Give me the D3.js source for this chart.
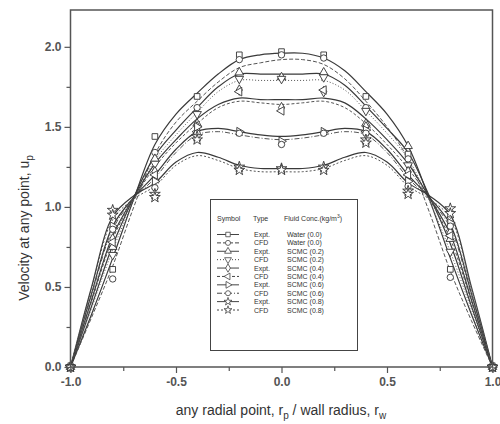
<!DOCTYPE html>
<html>
<head>
<meta charset="utf-8">
<script src="https://cdn.jsdelivr.net/npm/d3@7"></script>
<style>
  body { margin: 0; background: #fff; }
  text { font-family: Arial, "Liberation Sans", sans-serif; }
</style>
</head>
<body>
<svg id="chart"></svg>
<script>
// measured points (radial positions where symbols sit)
var xPts = [-1, -0.8, -0.6, -0.4, -0.2, 0, 0.2, 0.4, 0.6, 0.8, 1];
var waterExpt = [0, 0.61, 1.44, 1.69, 1.95, 1.97, 1.95, 1.69, 1.33, 0.61, 0];
var waterCfd  = [0, 0.55, 1.34, 1.62, 1.92, 1.95, 1.93, 1.62, 1.30, 0.56, 0];
var scmc02Expt = [0, 0.75, 1.30, 1.52, 1.84, 1.81, 1.84, 1.52, 1.38, 0.80, 0];
var scmc02Cfd  = [0, 0.70, 1.27, 1.58, 1.80, 1.80, 1.81, 1.60, 1.26, 0.72, 0];
var scmc04Expt = [0, 0.80, 1.22, 1.50, 1.73, 1.62, 1.72, 1.50, 1.22, 0.84, 0];
var scmc04Cfd  = [0, 0.78, 1.20, 1.47, 1.72, 1.60, 1.73, 1.47, 1.20, 0.82, 0];
var scmc06Expt = [0, 0.88, 1.16, 1.50, 1.47, 1.41, 1.47, 1.48, 1.16, 0.90, 0];
var scmc06Cfd  = [0, 0.86, 1.12, 1.46, 1.46, 1.39, 1.46, 1.46, 1.13, 0.88, 0];
var scmc08Expt = [0, 0.98, 1.08, 1.44, 1.25, 1.24, 1.25, 1.42, 1.10, 0.99, 0];
var scmc08Cfd  = [0, 0.95, 1.06, 1.42, 1.23, 1.23, 1.23, 1.40, 1.08, 0.96, 0];

// fitted profiles (lines)
var xFit = [-1, -0.9, -0.8, -0.7, -0.6, -0.5, -0.4, -0.3, -0.2, -0.1, 0,
            0.1, 0.2, 0.3, 0.4, 0.5, 0.6, 0.7, 0.8, 0.9, 1];
var waterExptFit = [0, 0.33, 0.68, 1.05, 1.39, 1.58, 1.71, 1.83, 1.92, 1.95, 1.96, 1.96, 1.93, 1.85, 1.72, 1.58, 1.38, 1.05, 0.68, 0.33, 0];
var waterCfdFit  = [0, 0.31, 0.63, 1.00, 1.33, 1.53, 1.66, 1.78, 1.87, 1.90, 1.92, 1.92, 1.89, 1.80, 1.66, 1.50, 1.30, 0.97, 0.60, 0.29, 0];
var scmc02ExptFit = [0, 0.38, 0.76, 1.06, 1.32, 1.48, 1.62, 1.75, 1.83, 1.83, 1.83, 1.83, 1.83, 1.76, 1.63, 1.49, 1.34, 1.07, 0.77, 0.38, 0];
var scmc02CfdFit  = [0, 0.37, 0.73, 1.04, 1.29, 1.45, 1.59, 1.72, 1.79, 1.79, 1.79, 1.79, 1.79, 1.73, 1.60, 1.46, 1.30, 1.04, 0.72, 0.36, 0];
var scmc04ExptFit = [0, 0.42, 0.82, 1.06, 1.27, 1.42, 1.55, 1.64, 1.68, 1.67, 1.67, 1.67, 1.68, 1.65, 1.55, 1.42, 1.27, 1.06, 0.83, 0.42, 0];
var scmc04CfdFit  = [0, 0.41, 0.80, 1.05, 1.25, 1.40, 1.52, 1.62, 1.66, 1.65, 1.64, 1.65, 1.66, 1.62, 1.52, 1.39, 1.24, 1.05, 0.80, 0.41, 0];
var scmc06ExptFit = [0, 0.46, 0.88, 1.06, 1.20, 1.36, 1.47, 1.49, 1.47, 1.45, 1.44, 1.45, 1.47, 1.49, 1.47, 1.36, 1.20, 1.06, 0.89, 0.46, 0];
var scmc06CfdFit  = [0, 0.45, 0.86, 1.05, 1.18, 1.34, 1.45, 1.47, 1.45, 1.43, 1.42, 1.43, 1.45, 1.47, 1.45, 1.34, 1.18, 1.05, 0.87, 0.45, 0];
var scmc08ExptFit = [0, 0.50, 0.94, 1.07, 1.15, 1.28, 1.34, 1.31, 1.26, 1.24, 1.24, 1.24, 1.26, 1.31, 1.34, 1.28, 1.15, 1.07, 0.95, 0.50, 0];
var scmc08CfdFit  = [0, 0.49, 0.92, 1.05, 1.13, 1.26, 1.32, 1.29, 1.24, 1.22, 1.22, 1.22, 1.24, 1.29, 1.32, 1.26, 1.13, 1.05, 0.93, 0.49, 0];

// legend text
var types = ["Expt.", "CFD", "Expt.", "CFD", "Expt.", "CFD", "Expt.", "CFD", "Expt.", "CFD"];
var fluids = ["Water (0.0)", "Water (0.0)", "SCMC (0.2)", "SCMC (0.2)", "SCMC (0.4)",
              "SCMC (0.4)", "SCMC (0.6)", "SCMC (0.6)", "SCMC (0.8)", "SCMC (0.8)"];

var xTicks = [-1, -0.5, 0, 0.5, 1];
var xMinor = [-0.75, -0.25, 0.25, 0.75];
var yTicks = [0, 0.5, 1, 1.5, 2];
var yMinor = [0.25, 0.75, 1.25, 1.75];

var width = 500, height = 424;
var plotL = 70.5, plotR = 492.5, plotT = 10, plotB = 367;

var svg = d3.select("#chart").attr("width", width).attr("height", height);

var x = d3.scaleLinear().domain([-1, 1]).range([plotL, plotR]);
var y = d3.scaleLinear().domain([0, 2.23]).range([plotB, plotT]);

// symbol + dash style per series
var tri = d3.symbolTriangle;
var series = [
  { pts: waterExpt,  fit: waterExptFit,  sym: d3.symbolSquare,  rot: 0,   dash: null },
  { pts: waterCfd,   fit: waterCfdFit,   sym: d3.symbolCircle,  rot: 0,   dash: "4,2" },
  { pts: scmc02Expt, fit: scmc02ExptFit, sym: tri,              rot: 0,   dash: null },
  { pts: scmc02Cfd,  fit: scmc02CfdFit,  sym: tri,              rot: 180, dash: "1,2" },
  { pts: scmc04Expt, fit: scmc04ExptFit, sym: d3.symbolDiamond, rot: 0,   dash: null },
  { pts: scmc04Cfd,  fit: scmc04CfdFit,  sym: tri,              rot: -90, dash: "3,2" },
  { pts: scmc06Expt, fit: scmc06ExptFit, sym: tri,              rot: 90,  dash: null },
  { pts: scmc06Cfd,  fit: scmc06CfdFit,  sym: d3.symbolCircle,  rot: 0,   dash: "5,2,1,2" },
  { pts: scmc08Expt, fit: scmc08ExptFit, sym: d3.symbolStar,    rot: 0,   dash: null },
  { pts: scmc08Cfd,  fit: scmc08CfdFit,  sym: d3.symbolStar,    rot: 0,   dash: "2,2" }
];

var line = d3.line()
  .x(function(d) { return x(d[0]); })
  .y(function(d) { return y(d[1]); })
  .curve(d3.curveCatmullRom.alpha(0.5));

var plot = svg.append("g");

// lines
series.forEach(function(s) {
  plot.append("path")
    .datum(xFit.map(function(v, i) { return [v, s.fit[i]]; }))
    .attr("d", line)
    .attr("fill", "none")
    .attr("stroke", s.dash ? "#555" : "#3a3a3a")
    .attr("stroke-width", s.dash ? 1 : 1.2)
    .attr("stroke-dasharray", s.dash);
});

function symPath(s) {
  var size = s.sym === d3.symbolStar ? 36 : 32;
  return d3.symbol().type(s.sym).size(size)();
}

// markers
series.forEach(function(s) {
  plot.selectAll(null)
    .data(xPts.map(function(v, i) { return [v, s.pts[i]]; }))
    .enter()
    .append("path")
    .attr("d", symPath(s))
    .attr("transform", function(d) {
      return "translate(" + x(d[0]) + "," + y(d[1]) + ") rotate(" + s.rot + ")";
    })
    .attr("fill", "#fff")
    .attr("stroke", "#333")
    .attr("stroke-width", 0.9);
});

// axes
var fmt = function(d) { return d.toFixed(1); };

var gx = svg.append("g").attr("transform", "translate(0," + plotB + ")");
gx.call(d3.axisBottom(x).tickValues(xTicks).tickFormat(fmt).tickSize(6).tickPadding(4));
var gxm = svg.append("g").attr("transform", "translate(0," + plotB + ")");
gxm.call(d3.axisBottom(x).tickValues(xMinor).tickFormat("").tickSize(4));

var gy = svg.append("g").attr("transform", "translate(" + plotL + ",0)");
gy.call(d3.axisLeft(y).tickValues(yTicks).tickFormat(fmt).tickSize(6).tickPadding(3));
var gym = svg.append("g").attr("transform", "translate(" + plotL + ",0)");
gym.call(d3.axisLeft(y).tickValues(yMinor).tickFormat("").tickSize(4));

[gx, gxm, gy, gym].forEach(function(g) {
  g.select(".domain").remove();
  g.selectAll("line").attr("stroke", "#555").attr("stroke-width", 1.2);
  g.selectAll("text")
    .attr("font-size", "12px")
    .attr("font-weight", "bold")
    .attr("fill", "#555");
});

// frame
svg.append("rect")
  .attr("x", plotL).attr("y", plotT)
  .attr("width", plotR - plotL).attr("height", plotB - plotT)
  .attr("fill", "none")
  .attr("stroke", "#555")
  .attr("stroke-width", 1.5);

// axis titles
var xt = svg.append("text")
  .attr("x", 281).attr("y", 415)
  .attr("text-anchor", "middle")
  .attr("font-size", "14px")
  .attr("fill", "#333");
xt.append("tspan").text("any radial point, r");
xt.append("tspan").attr("font-size", "10px").attr("dy", 4).text("p");
xt.append("tspan").attr("dy", -4).text(" / wall radius, r");
xt.append("tspan").attr("font-size", "10px").attr("dy", 4).text("w");

var yt = svg.append("text")
  .attr("transform", "translate(29,228) rotate(-90)")
  .attr("text-anchor", "middle")
  .attr("font-size", "14px")
  .attr("fill", "#333");
yt.append("tspan").text("Velocity at any point, u");
yt.append("tspan").attr("font-size", "10px").attr("dy", 4).text("p");

// legend
var lg = svg.append("g");
lg.append("rect")
  .attr("x", 210.5).attr("y", 199.5)
  .attr("width", 147).attr("height", 151)
  .attr("fill", "#fff")
  .attr("stroke", "#444")
  .attr("stroke-width", 1);

var hdr = lg.append("g").attr("font-size", "7px").attr("fill", "#333");
hdr.append("text").attr("x", 217).attr("y", 221).text("Symbol");
hdr.append("text").attr("x", 253).attr("y", 221).text("Type");
var hc = hdr.append("text").attr("x", 284).attr("y", 221).text("Fluid Conc.(kg/m");
hc.append("tspan").attr("font-size", "5px").attr("dy", -3).text("3");
hc.append("tspan").attr("dy", 3).text(")");

var rowY = d3.scaleLinear().domain([0, 9]).range([234.5, 310]);

series.forEach(function(s, i) {
  var ry = rowY(i);
  lg.append("line")
    .attr("x1", 217).attr("x2", 239)
    .attr("y1", ry).attr("y2", ry)
    .attr("stroke", "#444")
    .attr("stroke-width", 1)
    .attr("stroke-dasharray", s.dash);
  lg.append("path")
    .attr("d", d3.symbol().type(s.sym).size(20)())
    .attr("transform", "translate(228," + ry + ") rotate(" + s.rot + ")")
    .attr("fill", "#fff")
    .attr("stroke", "#444")
    .attr("stroke-width", 0.8);
  lg.append("text").attr("x", 254).attr("y", ry + 2.5)
    .attr("font-size", "7px").attr("fill", "#333")
    .text(types[i]);
  lg.append("text").attr("x", 287).attr("y", ry + 2.5)
    .attr("font-size", "7px").attr("fill", "#333")
    .text(fluids[i]);
});
</script>
</body>
</html>
